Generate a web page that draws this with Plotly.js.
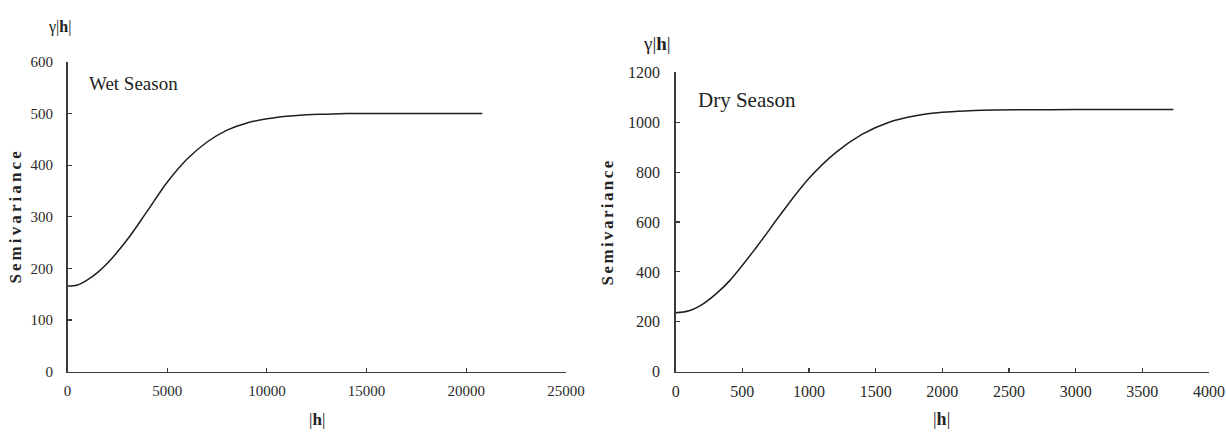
<!DOCTYPE html>
<html>
<head>
<meta charset="utf-8">
<script src="https://cdn.plot.ly/plotly-3.0.1.min.js"></script>
<style>
  html, body { margin: 0; padding: 0; background: #fff; }
  #chart { width: 1226px; height: 432px; }
  .spaced-left { letter-spacing: 3.1px; }
  .spaced-right { letter-spacing: 2.4px; }
</style>
</head>
<body>
<div id="chart"></div>
<script>
// Wet season semivariogram
const wetLag = [0, 500, 1000, 1500, 2000, 3000, 4000, 5000, 6000, 7000, 8000, 9000, 10000, 11000, 12000, 13000, 14000, 16000, 18000, 20800];
const wetGamma = [166, 168, 178, 192, 210, 256, 311, 367, 412, 445, 468, 482, 490, 495, 498, 499, 500, 500, 500, 500];

// Dry season semivariogram
const dryLag = [0, 100, 200, 300, 400, 600, 800, 1000, 1200, 1400, 1600, 1800, 2000, 2200, 2400, 2700, 3000, 3400, 3733];
const dryGamma = [236, 244, 270, 311, 362, 495, 640, 775, 878, 952, 1000, 1026, 1040, 1046, 1049, 1050, 1051, 1051, 1051];

const wetTicksX = [0, 5000, 10000, 15000, 20000, 25000];
const wetTicksY = [0, 100, 200, 300, 400, 500, 600];
const dryTicksX = [0, 500, 1000, 1500, 2000, 2500, 3000, 3500, 4000];
const dryTicksY = [0, 200, 400, 600, 800, 1000, 1200];

const W = 1226, H = 432;
const px = v => v / W;
const py = v => 1 - v / H;

const serif = "Times New Roman";
const lineColor = '#1e1e1e';
const axisColor = '#3a3a3a';

const traces = [
  { x: wetLag, y: wetGamma, xaxis: 'x', yaxis: 'y', mode: 'lines',
    line: { color: lineColor, width: 1.5, shape: 'spline', smoothing: 1 }, hoverinfo: 'skip', showlegend: false },
  { x: dryLag, y: dryGamma, xaxis: 'x2', yaxis: 'y2', mode: 'lines',
    line: { color: lineColor, width: 1.5, shape: 'spline', smoothing: 1 }, hoverinfo: 'skip', showlegend: false }
];

function axisBase(extra) {
  return Object.assign({
    showgrid: false, zeroline: false, showline: true,
    linecolor: axisColor, linewidth: 1.5,
    ticks: 'inside', ticklen: 4, tickwidth: 1.2, tickcolor: axisColor,
    tickmode: 'array', fixedrange: true
  }, extra);
}

const layout = {
  width: W, height: H,
  margin: { l: 0, r: 0, t: 0, b: 0 },
  paper_bgcolor: '#fff', plot_bgcolor: '#fff',
  font: { family: serif },
  showlegend: false,
  xaxis: axisBase({ domain: [px(67.5), px(566)], range: [0, 25000], tickvals: wetTicksX,
    ticktext: wetTicksX.map(String), anchor: 'y',
    tickfont: { family: serif, size: 15, color: '#2a2a2a' }, ticklabelstandoff: 5 }),
  yaxis: axisBase({ domain: [1 - 371.7 / H, 1 - 62 / H], range: [0, 600], tickvals: wetTicksY,
    ticktext: wetTicksY.map(String), anchor: 'x',
    tickfont: { family: serif, size: 15, color: '#2a2a2a' }, ticklabelstandoff: 10 }),
  xaxis2: axisBase({ domain: [px(675.7), px(1209)], range: [0, 4000], tickvals: dryTicksX,
    ticktext: dryTicksX.map(String), anchor: 'y2',
    tickfont: { family: serif, size: 16, color: '#2a2a2a' }, ticklabelstandoff: 5 }),
  yaxis2: axisBase({ domain: [1 - 371.7 / H, 1 - 72.3 / H], range: [0, 1200], tickvals: dryTicksY,
    ticktext: dryTicksY.map(String), anchor: 'x2',
    tickfont: { family: serif, size: 16, color: '#2a2a2a' }, ticklabelstandoff: 11 }),
  annotations: [
    { text: 'γ|<b>h</b>|', x: px(59), y: py(27), xref: 'paper', yref: 'paper', showarrow: false,
      xanchor: 'center', yanchor: 'middle', font: { family: serif, size: 16, color: '#222' } },
    { text: 'Wet Season', x: px(87), y: py(83), xref: 'paper', yref: 'paper', showarrow: false,
      xanchor: 'left', yanchor: 'middle', font: { family: serif, size: 19, color: '#222' } },
    { text: '<b>Semivariance</b>', x: px(15), y: py(216), xref: 'paper', yref: 'paper', showarrow: false,
      textangle: -90, xanchor: 'center', yanchor: 'middle', font: { family: serif, size: 17, color: '#222' } },
    { text: '|<b>h</b>|', x: px(317), y: py(419), xref: 'paper', yref: 'paper', showarrow: false,
      xanchor: 'center', yanchor: 'middle', font: { family: serif, size: 17, color: '#222' } },
    { text: 'γ|<b>h</b>|', x: px(657), y: py(43.5), xref: 'paper', yref: 'paper', showarrow: false,
      xanchor: 'center', yanchor: 'middle', font: { family: serif, size: 19, color: '#222' } },
    { text: 'Dry Season', x: px(696), y: py(100.5), xref: 'paper', yref: 'paper', showarrow: false,
      xanchor: 'left', yanchor: 'middle', font: { family: serif, size: 21, color: '#222' } },
    { text: '<b>Semivariance</b>', x: px(608), y: py(222), xref: 'paper', yref: 'paper', showarrow: false,
      textangle: -90, xanchor: 'center', yanchor: 'middle', font: { family: serif, size: 17, color: '#222' } },
    { text: '|<b>h</b>|', x: px(941), y: py(419), xref: 'paper', yref: 'paper', showarrow: false,
      xanchor: 'center', yanchor: 'middle', font: { family: serif, size: 18, color: '#222' } }
  ]
};

Plotly.newPlot('chart', traces, layout, { staticPlot: true, displayModeBar: false }).then(() => {
  document.querySelectorAll('.annotation-text').forEach(t => {
    if (t.textContent === 'Semivariance') {
      t.classList.add(t.getBoundingClientRect().left < 300 ? 'spaced-left' : 'spaced-right');
    }
  });
});
</script>
</body>
</html>
